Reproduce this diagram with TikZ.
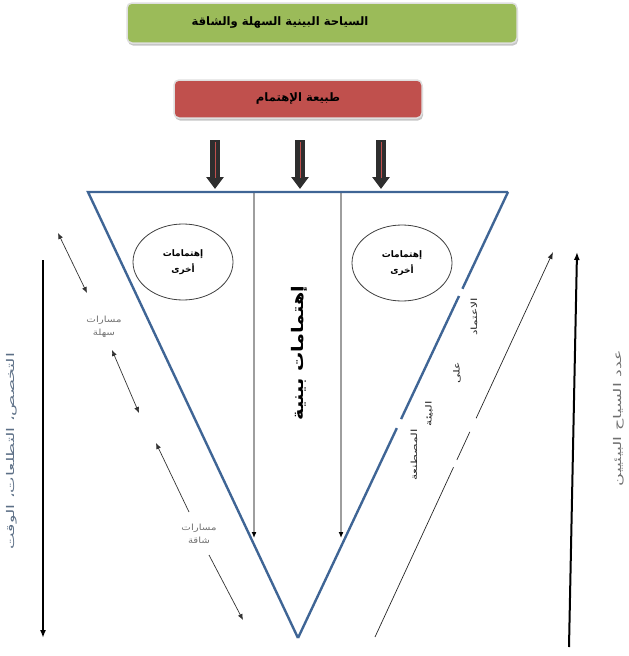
\documentclass[tikz,border=0pt]{standalone}
\usepackage{fontspec}
\newfontfamily\ar[Script=Arabic]{DejaVu Sans}
\newfontfamily\arwide[Script=Arabic,FakeStretch=1.45]{DejaVu Sans}
\newfontfamily\arwider[Script=Arabic,FakeStretch=1.65]{DejaVu Sans}
\newfontfamily\armid[Script=Arabic,FakeStretch=1.2]{DejaVu Sans}
\TeXXeTstate=1
\usetikzlibrary{arrows.meta,shapes.geometric,shadows}
\definecolor{boxgreen}{HTML}{9BBB59}
\definecolor{boxred}{HTML}{C0504D}
\definecolor{triblue}{HTML}{3F6595}
\definecolor{txtgray}{HTML}{707070}
\definecolor{sidegray}{HTML}{5C6F86}
\definecolor{arrdark}{HTML}{2E2E2E}
\definecolor{linegray}{HTML}{9E9E9E}
\tikzset{
  topbox/.style={rounded corners=5pt, draw=gray!25, line width=1.5pt,
    drop shadow={opacity=0.45, shadow xshift=1pt, shadow yshift=-2.5pt},
    font=\ar\bfseries\fontsize{11.6}{13}\selectfont, text=black},
  bigarrow/.style={line width=10pt, draw=arrdark, -{Triangle[width=17pt,length=12pt]}},
  redstripe/.style={draw=boxred, line width=0.8pt},
  triedge/.style={draw=triblue, line width=2.4pt},
  innerline/.style={draw=linegray, line width=1.5pt, -{Latex[length=6pt,width=5pt,color=black]}},
  interest/.style={ellipse, draw=black!75, line width=0.8pt, minimum width=100pt,
    minimum height=76pt, align=center, font=\ar\bfseries\fontsize{9}{16}\selectfont},
  pathtext/.style={align=center, text=txtgray, font=\armid\fontsize{8.5}{13}\selectfont},
  dbl/.style={draw=black!80, line width=0.7pt, {Latex[length=6pt,width=5pt]}-{Latex[length=6pt,width=5pt]}},
  sgl/.style={draw=black!80, line width=0.7pt, -{Latex[length=6pt,width=5pt]}},
  sidearrow/.style={draw=black, line width=2pt, -{Latex[length=8pt,width=6pt]}},
  diagword/.style={rotate=90, inner sep=1pt, font=\arwide\fontsize{8.5}{10}\selectfont, text=black!85},
}
\begin{document}
\begin{tikzpicture}[x=1pt,y=-1pt]
\useasboundingbox (0,0) rectangle (629,656);

% top boxes
\node[topbox, fill=boxgreen, minimum width=390pt, minimum height=40pt] (title) at (322,23)
  {\beginR السياحة البينية السهلة والشاقة\endR\hspace*{84pt}};
\node[topbox, fill=boxred, minimum width=248pt, minimum height=38pt] (nature) at (298,99)
  {\beginR طبيعة الإهتمام\endR};

% triangle corners
\coordinate (tl) at (88,192);
\coordinate (tr) at (508,192);
\coordinate (ap) at (298,638);

% block arrows
\coordinate (a1s) at (215,140); \coordinate (a1e) at (215,189);
\coordinate (a2s) at (300,140); \coordinate (a2e) at (300,189);
\coordinate (a3s) at (381,140); \coordinate (a3e) at (381,189);
\foreach \s/\e in {a1s/a1e,a2s/a2e,a3s/a3e}{
  \draw[bigarrow] (\s) -- (\e);
  \draw[redstripe] ([yshift=-2pt]\s) -- ([yshift=-38pt]\s);
}

% inner vertical lines
\coordinate (v1t) at (254,192); \coordinate (v1b) at (254,538);
\coordinate (v2t) at (341,192); \coordinate (v2b) at (341,538);
\draw[innerline] (v1t) -- (v1b);
\draw[innerline] (v2t) -- (v2b);

% triangle
\draw[triedge, line join=miter] (tr) -- (tl) -- (ap);
\draw[triedge, dash pattern=on 232pt off 10pt on 136pt off 8pt on 200pt off 0pt] (ap) -- (tr);

% ellipses
\node[interest] (e1) at (183,262) {\beginR إهتمامات\endR\\\beginR أخرى\endR};
\node[interest] (e2) at (402,263) {\beginR إهتمامات\endR\\\beginR أخرى\endR};

% centre text
\node[rotate=90, font=\armid\bfseries\fontsize{16}{18}\selectfont] (centre) at (299,353)
  {\beginR إهتمامات بينية\endR};

% left path labels and arrows
\node[pathtext] (easy) at (104,327) {\beginR مسارات\endR\\\beginR سهلة\endR};
\node[pathtext] (hard) at (199,534) {\beginR مسارات\endR\\\beginR شاقة\endR};
\coordinate (d1a) at (58,233); \coordinate (d1b) at (87,293);
\coordinate (d2a) at (112,350); \coordinate (d2b) at (139,413);
\coordinate (d3a) at (156,443); \coordinate (d3b) at (189,512);
\coordinate (d4a) at (209,555); \coordinate (d4b) at (243,620);
\draw[dbl] (d1a) -- (d1b);
\draw[dbl] (d2a) -- (d2b);
\draw[sgl] (d3b) -- (d3a);
\draw[sgl] (d4a) -- (d4b);

% left long arrow and label
\coordinate (lt) at (43,260); \coordinate (lb) at (43,638);
\draw[sidearrow] (lt) -- (lb);
\node[rotate=90, text=sidegray, font=\arwider\fontsize{10.6}{13}\selectfont] (leftlbl) at (12,451)
  {\beginR التخصص، التطلعات، الوقت\endR};

% right diagonal arrow with gaps
\coordinate (rd1) at (375,637); \coordinate (rd2) at (553,252);
\draw[draw=black!85, line width=0.7pt, dash pattern=on 187pt off 8pt on 31pt off 15pt on 300pt off 0pt,
  -{Latex[length=7pt,width=5pt]}] (rd1) -- (rd2);
\node[diagword] (w1) at (474,317) {\beginR الاعتماد\endR};
\node[diagword] (w2) at (457,373) {\beginR على\endR};
\node[diagword] (w3) at (429,414) {\beginR البيئة\endR};
\node[diagword] (w4) at (414,455) {\beginR المصطنعة\endR};

% right long arrow and label
\coordinate (rt) at (577,252); \coordinate (rb) at (569,647);
\draw[sidearrow] (rb) -- (rt);
\node[rotate=90, text=txtgray, font=\arwider\fontsize{10.6}{13}\selectfont] (rightlbl) at (619,418)
  {\beginR عدد السياح البيئيين\endR};
\end{tikzpicture}
\end{document}
